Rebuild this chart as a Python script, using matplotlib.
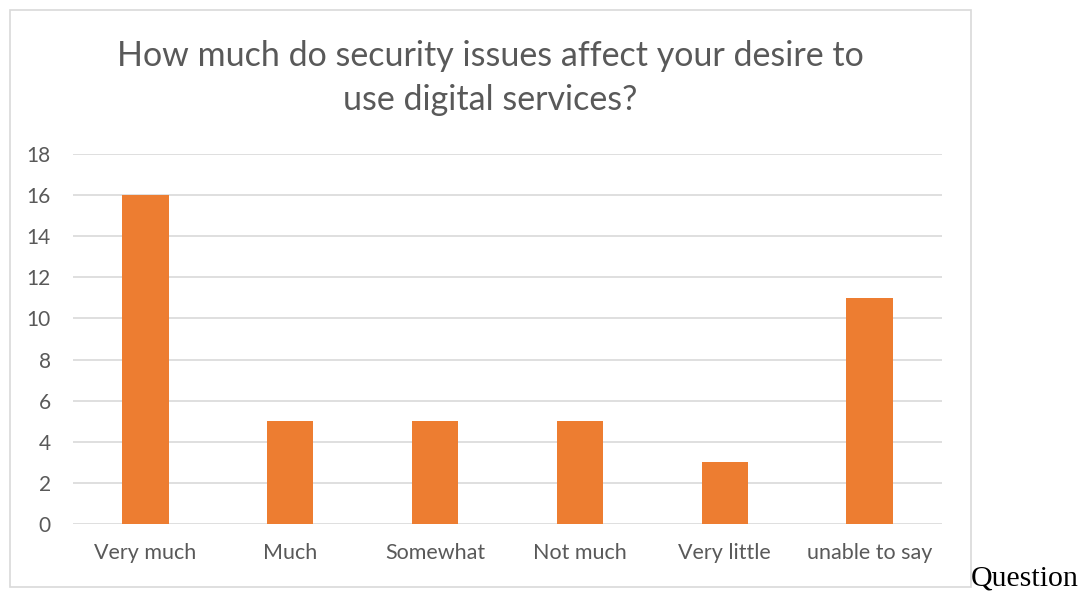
import matplotlib.pyplot as plt
from matplotlib.patches import Rectangle

categories = ["Very much", "Much", "Somewhat", "Not much", "Very little", "unable to say"]
counts = [16, 5, 5, 5, 3, 11]
y_ticks = [0, 2, 4, 6, 8, 10, 12, 14, 16, 18]
title = "How much do security issues affect your desire to\nuse digital services?"

W, H = 1083, 592
fig = plt.figure(figsize=(W / 100, H / 100), dpi=100)
fig.patch.set_facecolor("white")

# chart frame
fig.patches.append(Rectangle((10 / W, 1 - 587 / H), 961 / W, 577 / H,
                             transform=fig.transFigure, fill=False,
                             edgecolor="#d9d9d9", linewidth=1.2))

ax = fig.add_axes([73 / W, 1 - 524 / H, 869 / W, 370 / H])
x = range(len(categories))
ax.bar(x, counts, width=0.32, color="#ED7D31", zorder=3)
ax.set_xlim(-0.5, len(categories) - 0.5)
ax.set_ylim(0, 18)
ax.set_yticks(y_ticks)
ax.set_xticks(list(x))
ax.set_xticklabels(categories)
ax.grid(axis="y", color="#d9d9d9", linewidth=1.2, zorder=0)
for s in ax.spines.values():
    s.set_visible(False)
ax.tick_params(length=0, labelsize=15, labelcolor="#595959")
ax.tick_params(axis="x", pad=14, labelsize=15.5)
ax.tick_params(axis="y", pad=16)
for lab in ax.get_xticklabels() + ax.get_yticklabels():
    lab.set_family("Lato")
ax.set_axisbelow(True)

fig.text(490 / W, 1 - 78 / H, title, ha="center", va="center",
         fontsize=24.5, color="#595959", family="Lato", linespacing=1.45)

fig.text(971 / W, 1 - 591 / H, "Question", ha="left", va="bottom",
         fontsize=21.5, color="black", family="Liberation Serif")

fig.savefig("out.png", dpi=100)
